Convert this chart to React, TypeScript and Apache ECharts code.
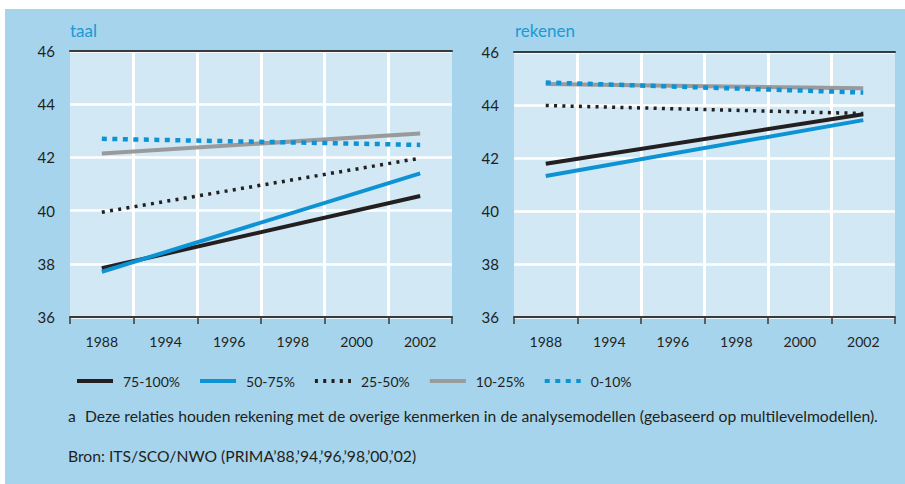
import React, { useEffect, useRef } from "react";
import * as echarts from "echarts";

const years = ["1988", "1994", "1996", "1998", "2000", "2002"];
const seriesNames = ["75-100%", "50-75%", "25-50%", "10-25%", "0-10%"];

// taal (start 1988, end 2002; straight trend lines)
const taal75_100 = [37.83, null, null, null, null, 40.55];
const taal50_75 = [37.7, null, null, null, null, 41.4];
const taal25_50 = [39.94, null, null, null, null, 41.97];
const taal10_25 = [42.15, null, null, null, null, 42.9];
const taal0_10 = [42.7, null, null, null, null, 42.47];

// rekenen
const rek75_100 = [41.78, null, null, null, null, 43.65];
const rek50_75 = [41.32, null, null, null, null, 43.43];
const rek25_50 = [43.98, null, null, null, null, 43.68];
const rek10_25 = [44.79, null, null, null, null, 44.63];
const rek0_10 = [44.85, null, null, null, null, 44.47];

const yTicks = [36, 38, 40, 42, 44, 46];

const FONT = "Lato, 'Open Sans', sans-serif";
const TXT = "#231f20";
const BLUE = "#0d93d4";

const styles = [
  { color: "#231f20", width: 4, type: "solid" as any },
  { color: BLUE, width: 4, type: "solid" as any },
  { color: "#231f20", width: 3.5, type: [3, 5.3] as any },
  { color: "#999a9c", width: 4, type: "solid" as any },
  { color: BLUE, width: 4.5, type: [5, 5.5] as any },
];

export default function App() {
  const ref = useRef<HTMLDivElement>(null);
  useEffect(() => {
    if (!ref.current) return;
    const chart = echarts.init(ref.current, undefined, { renderer: "svg" });
    const grids = [
      { left: 70, top: 51, width: 382, height: 266 },
      { left: 514, top: 52, width: 381, height: 265 },
    ];
    const vColors = ["rgba(0,0,0,0)", "#fff", "#fff", "#fff", "#fff", "#fff", "rgba(0,0,0,0)"];
    const xAxes: any[] = [];
    [0, 1].forEach((g) => {
      xAxes.push({
        type: "category",
        gridIndex: g,
        data: years,
        boundaryGap: true,
        position: "bottom",
        axisLine: { lineStyle: { color: "#3a3a3a", width: 2 } },
        axisTick: { show: true, length: 7, lineStyle: { color: "#3a3a3a", width: 1.5 } },
        axisLabel: { color: TXT, fontFamily: FONT, fontSize: 14, margin: 17 },
        splitLine: { show: true, lineStyle: { color: vColors, width: 3 } },
      });
    });
    [0, 1].forEach((g) => {
      xAxes.push({
        type: "category",
        gridIndex: g,
        data: years,
        boundaryGap: true,
        position: "top",
        axisLine: { lineStyle: { color: "#3a3a3a", width: 2 } },
        axisTick: { show: false },
        axisLabel: { show: false },
        splitLine: { show: false },
      });
    });
    const yAxes = [0, 1].map((g) => ({
      type: "value",
      gridIndex: g,
      min: yTicks[0],
      max: yTicks[yTicks.length - 1],
      interval: 2,
      axisLine: { show: false },
      axisTick: { show: false },
      axisLabel: { color: TXT, fontFamily: FONT, fontSize: 15, margin: 15 },
      splitLine: { show: true, lineStyle: { color: "#fff", width: 2.5 } },
    }));
    const taalData = [taal75_100, taal50_75, taal25_50, taal10_25, taal0_10];
    const rekData = [rek75_100, rek50_75, rek25_50, rek10_25, rek0_10];
    const series: any[] = [];
    [taalData, rekData].forEach((set, g) => {
      set.forEach((d, i) => {
        series.push({
          type: "line",
          name: seriesNames[i],
          xAxisIndex: g,
          yAxisIndex: g,
          data: d,
          connectNulls: true,
          symbol: "none",
          showSymbol: false,
          lineStyle: { ...styles[i], cap: "butt" },
          itemStyle: { color: styles[i].color, opacity: 0 },
          emphasis: { disabled: true },
        });
      });
    });
    chart.setOption({
      animation: false,
      backgroundColor: "#a6d4ec",
      grid: grids.map((g) => ({ ...g, show: true, backgroundColor: "#d2e8f5", borderWidth: 0 })),
      xAxis: xAxes,
      yAxis: yAxes,
      legend: {
        data: seriesNames,
        left: 70,
        top: 369,
        itemWidth: 36,
        itemHeight: 16,
        itemGap: 18,
        itemStyle: { opacity: 0 },
        lineStyle: { width: 4 },
        textStyle: { color: TXT, fontFamily: FONT, fontSize: 14, padding: [0, 0, 0, 5] },
        selectedMode: false,
      },
      graphic: [
        { type: "rect", shape: { x: 0, y: 0, width: 905, height: 9 }, style: { fill: "#fff" }, z: 100 },
        { type: "rect", shape: { x: 0, y: 0, width: 5, height: 484 }, style: { fill: "#fff" }, z: 100 },
        { type: "text", left: 70, top: 22, style: { text: "taal", fill: "#1a9ad6", font: `17px ${FONT}` } },
        { type: "text", left: 515, top: 22, style: { text: "rekenen", fill: "#1a9ad6", font: `17px ${FONT}` } },
        { type: "text", left: 68, top: 408, style: { text: "a", fill: TXT, font: `15.7px ${FONT}` } },
        {
          type: "text",
          left: 85,
          top: 408,
          style: {
            text: "Deze relaties houden rekening met de overige kenmerken in de analysemodellen (gebaseerd op multilevelmodellen).",
            fill: TXT,
            font: `15.7px ${FONT}`,
          },
        },
        {
          type: "text",
          left: 68,
          top: 448,
          style: { text: "Bron: ITS/SCO/NWO (PRIMA’88,’94,’96,’98,’00,’02)", fill: TXT, font: `15.7px ${FONT}` },
        },
      ],
      series,
    });
    return () => chart.dispose();
  }, []);
  return (
    <div style={{ position: "fixed", left: 0, top: 0, width: 905, height: 484, background: "#fff" }}>
      <div ref={ref} style={{ width: 905, height: 484 }} />
    </div>
  );
}
